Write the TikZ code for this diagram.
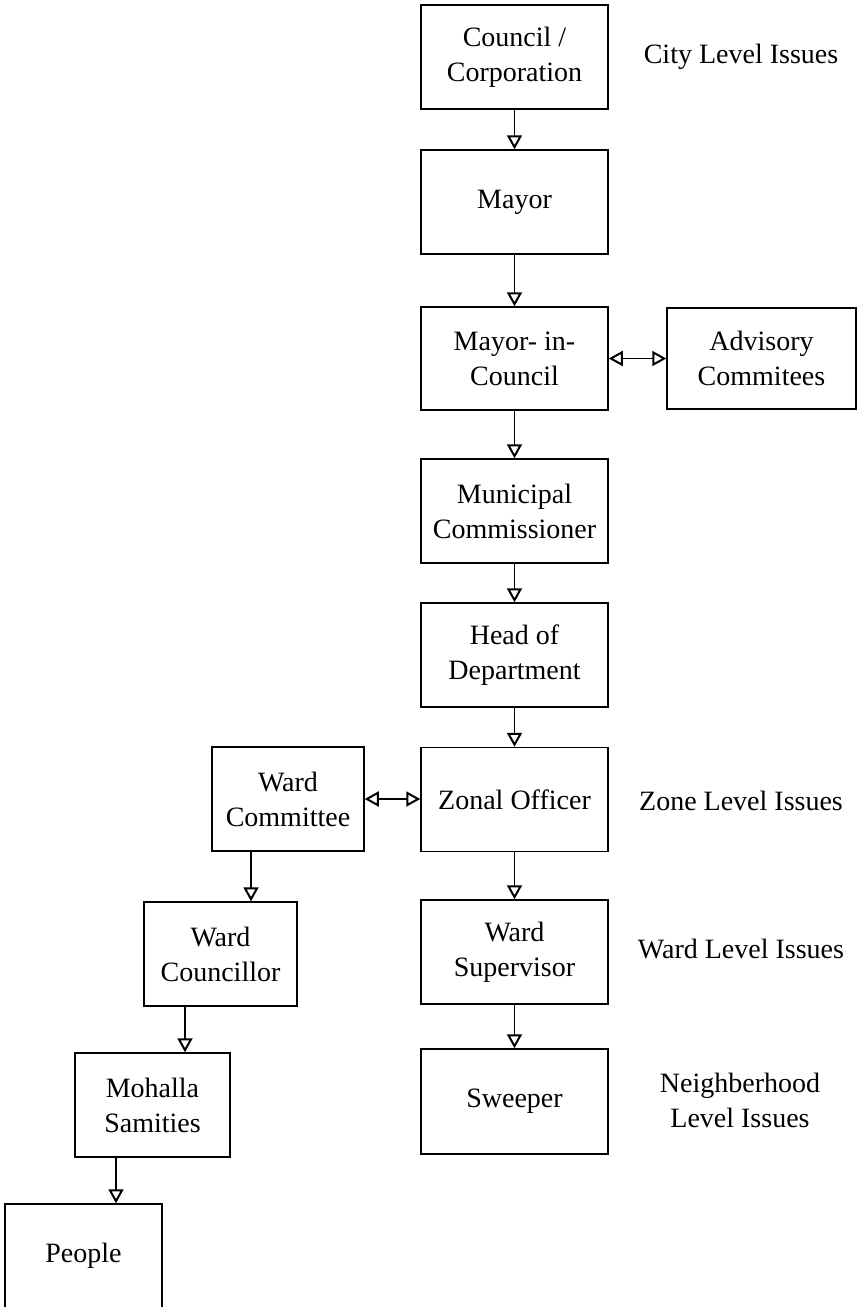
\documentclass[tikz,border=0pt]{standalone}
\usepackage{fontspec}
\setmainfont{Liberation Serif}
\usetikzlibrary{arrows.meta}
\begin{document}
\begin{tikzpicture}[x=1pt,y=-1pt,
  box/.style={draw, line width=1.5pt, inner sep=0pt, align=center,
    font=\fontsize{28}{35}\selectfont},
  lbl/.style={align=center, font=\fontsize{28}{35}\selectfont},
  arr/.style={line width=1.5pt, -{Triangle[open, length=14pt, width=15pt, line width=2pt]}},
  darr/.style={line width=1.5pt, {Triangle[open, length=14pt, width=15pt, line width=2pt]}-{Triangle[open, length=14pt, width=15pt, line width=2pt]}}]
\useasboundingbox (0,0) rectangle (858,1307);

% main column
\node[box, minimum width=187pt, minimum height=104pt] (council) at (514.5,57) {Council /\\Corporation};
\node[box, minimum width=187pt, minimum height=104pt] (mayor) at (514.5,202) {Mayor};
\node[box, minimum width=187pt, minimum height=103pt] (mic) at (514.5,358.5) {Mayor- in-\\Council};
\node[box, minimum width=189pt, minimum height=101pt] (adv) at (761.5,358.5) {Advisory\\Commitees};
\node[box, minimum width=187pt, minimum height=104pt] (mun) at (514.5,511) {Municipal\\Commissioner};
\node[box, minimum width=187pt, minimum height=104pt] (head) at (514.5,655) {Head of\\Department};
\node[box, minimum width=187pt, minimum height=104pt] (zonal) at (514.5,799.5) {Zonal Officer};
\node[box, minimum width=187pt, minimum height=104pt] (sup) at (514.5,952) {Ward\\Supervisor};
\node[box, minimum width=187pt, minimum height=105pt] (sweep) at (514.5,1101.5) {Sweeper};

% ward branch
\node[box, minimum width=152pt, minimum height=104pt] (wcom) at (288,799) {Ward\\Committee};
\node[box, minimum width=153pt, minimum height=104pt] (wcoun) at (220.5,954) {Ward\\Councillor};
\node[box, minimum width=155pt, minimum height=104pt] (moh) at (152.5,1105) {Mohalla\\Samities};
\node[box, minimum width=157pt, minimum height=104pt] (people) at (83.5,1256) {People};

% level labels
\node[lbl] (lcity) at (741,57) {City Level Issues};
\node[lbl] (lzone) at (741,801) {Zone Level Issues};
\node[lbl] (lward) at (741,949) {Ward Level Issues};
\node[lbl] (lnbh) at (740,1100) {Neighberhood\\Level Issues};

% columns of the offset connectors
\coordinate (k1) at (251,0);
\coordinate (k2) at (185,0);
\coordinate (k3) at (116,0);

% connectors
\draw[arr] (council) -- (mayor);
\draw[arr] (mayor) -- (mic);
\draw[arr] (mic) -- (mun);
\draw[arr] (mun) -- (head);
\draw[arr] (head) -- (zonal);
\draw[arr] (zonal) -- (sup);
\draw[arr] (sup) -- (sweep);
\draw[darr] (mic.east) -- (mic.east -| adv.west);
\draw[darr] (wcom.east) -- (wcom.east -| zonal.west);
\draw[arr] (wcom.south -| k1) -- (wcoun.north -| k1);
\draw[arr] (wcoun.south -| k2) -- (moh.north -| k2);
\draw[arr] (moh.south -| k3) -- (people.north -| k3);
\end{tikzpicture}
\end{document}
